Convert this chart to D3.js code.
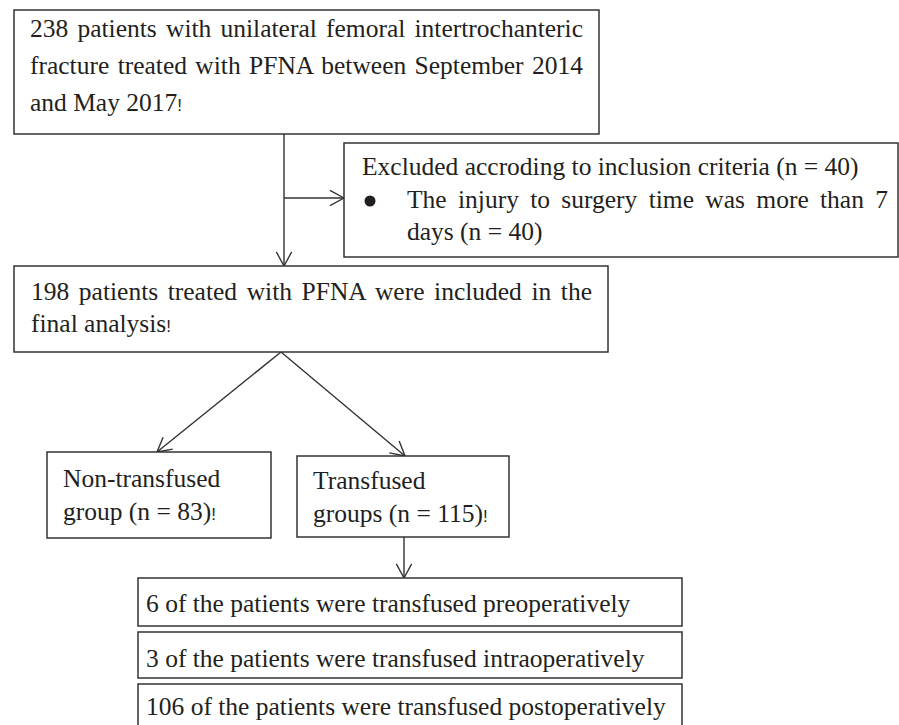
<!DOCTYPE html>
<html>
<head>
<meta charset="utf-8">
<script src="https://cdn.jsdelivr.net/npm/d3@7"></script>
<style>
  html, body { margin: 0; padding: 0; background: #fff; }
  svg { display: block; }
  text { font-family: "Liberation Serif", "Tinos", "Times New Roman", "DejaVu Serif", serif; }
</style>
</head>
<body>
<svg id="chart" width="899" height="725"></svg>
<script>
// ---- Data (text content and counts) ----
const totalLines = ["238 patients with unilateral femoral intertrochanteric",
                    "fracture treated with PFNA between September 2014",
                    "and May 2017"];
const excludedLines = ["Excluded accroding to inclusion criteria (n = 40)",
                       "The injury to surgery time was more than 7",
                       "days (n = 40)"];
const includedLines = ["198 patients treated with PFNA were included in the",
                       "final analysis"];
const nonTransLines = ["Non-transfused", "group (n = 83)"];
const transLines = ["Transfused", "groups (n = 115)"];
const timingLabels = ["6 of the patients were transfused preoperatively",
                      "3 of the patients were transfused intraoperatively",
                      "106 of the patients were transfused postoperatively"];

// ---- Layout ----
const svg = d3.select("#chart");
const FS = 25.5;
const INK = "#231f20";
const LINE = "#333";

function box(x, y, w, h) {
  svg.append("rect").attr("x", x).attr("y", y).attr("width", w).attr("height", h)
    .attr("fill", "#fff").attr("stroke", LINE).attr("stroke-width", 1.5);
}
function textLine(str, x, y, opts = {}) {
  const t = svg.append("text").attr("x", x).attr("y", y)
    .attr("font-size", FS).attr("fill", INK)
    .text(str);
  if (opts.bang) {
    t.append("tspan").attr("font-size", 17).style("font-family", "'Liberation Sans', sans-serif").text("!");
  }
  if (opts.justify) {
    const natural = t.node().getComputedTextLength();
    const spaces = (str.match(/ /g) || []).length;
    if (spaces > 0) t.attr("word-spacing", (opts.justify - x - natural) / spaces);
  }
  return t;
}
function arrow(x1, y1, x2, y2) {
  svg.append("line").attr("x1", x1).attr("y1", y1).attr("x2", x2).attr("y2", y2)
    .attr("stroke", LINE).attr("stroke-width", 1.4);
  const a = Math.atan2(y2 - y1, x2 - x1), L = 16, s = 0.5;
  [a + Math.PI - s, a + Math.PI + s].forEach(b => {
    svg.append("line").attr("x1", x2).attr("y1", y2)
      .attr("x2", x2 + L * Math.cos(b)).attr("y2", y2 + L * Math.sin(b))
      .attr("stroke", LINE).attr("stroke-width", 1.4);
  });
}

// arrows
arrow(284, 134, 284, 266);
arrow(284, 198, 344, 198);
arrow(281, 352, 157, 452);
arrow(281, 352, 405, 456);
arrow(404, 537, 404, 578);

// box 1
box(14, 10, 585, 124);
textLine(totalLines[0], 30, 37, {justify: 583});
textLine(totalLines[1], 30, 74, {justify: 583});
textLine(totalLines[2], 30, 111, {bang: true});

// box 2
box(344, 143, 554, 114);
textLine(excludedLines[0], 362, 175);
svg.append("circle").attr("cx", 370).attr("cy", 201).attr("r", 5.5).attr("fill", INK);
textLine(excludedLines[1], 407, 208, {justify: 888});
textLine(excludedLines[2], 407, 240);

// box 3
box(14, 266, 594, 86);
textLine(includedLines[0], 31, 300, {justify: 592});
textLine(includedLines[1], 31, 332, {bang: true});

// box 4 & 5
box(47, 452, 224, 86);
textLine(nonTransLines[0], 63, 487);
textLine(nonTransLines[1], 63, 520, {bang: true});
box(297, 456, 212, 81);
textLine(transLines[0], 313, 489);
textLine(transLines[1], 313, 522, {bang: true});

// timing boxes
const timingY = [578, 632, 684];
const timingH = [48, 46, 60];
const timingBase = [612, 667, 715];
timingLabels.forEach((lab, i) => {
  box(138, timingY[i], 544, timingH[i]);
  textLine(lab, 146, timingBase[i]);
});
</script>
</body>
</html>
